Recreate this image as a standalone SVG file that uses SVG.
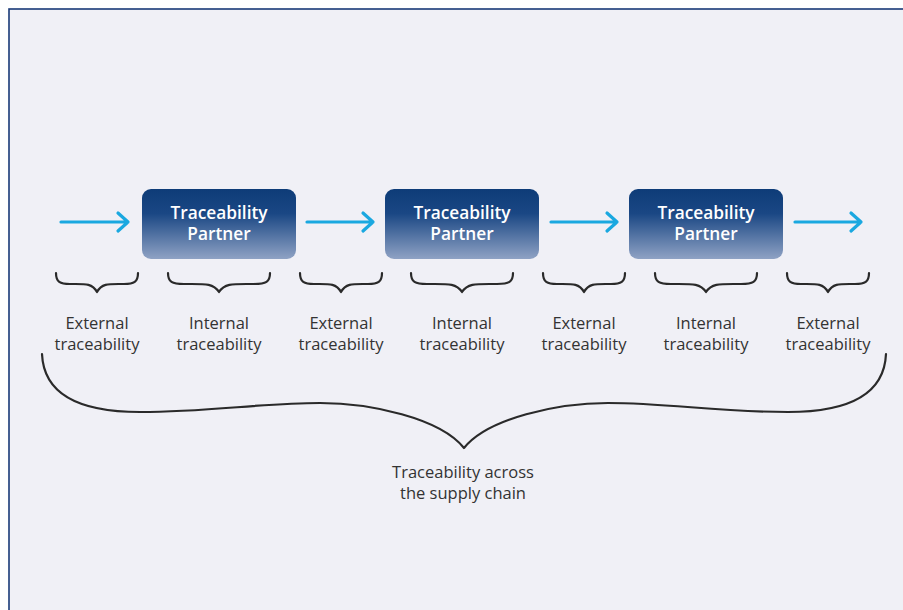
<svg xmlns="http://www.w3.org/2000/svg" width="903" height="610" viewBox="0 0 903 610">
<defs>
<linearGradient id="boxg" x1="0" y1="0" x2="0" y2="1">
<stop offset="0" stop-color="#0e3c78"/>
<stop offset="0.35" stop-color="#1a4784"/>
<stop offset="1" stop-color="#8fa2c4"/>
</linearGradient>
<style>
.box{fill:url(#boxg);}
.bt{font-family:"Open Sans","Liberation Sans",sans-serif;font-weight:600;font-size:17.3px;fill:#ffffff;text-anchor:middle;}
.lbl{font-family:"Open Sans","Liberation Sans",sans-serif;font-size:16.5px;fill:#333333;text-anchor:middle;}
.arr{fill:none;stroke:#1aa8e0;stroke-width:3.2;stroke-linecap:round;stroke-linejoin:round;}
.brace{fill:none;stroke:#2a2a2a;stroke-width:2.2;stroke-linecap:round;stroke-linejoin:round;}
</style>
</defs>
<rect x="0" y="0" width="903" height="610" fill="#ffffff"/>
<rect x="9" y="9" width="910" height="620" fill="#f0f0f6" stroke="#1a3a78" stroke-width="1.6"/>

<g id="connectors">
<path class="arr" d="M61,222 H128 M118,213 L128,222 L118,231"/>
<path class="arr" d="M307,222 H373 M363,213 L373,222 L363,231"/>
<path class="arr" d="M551,222 H617 M607,213 L617,222 L607,231"/>
<path class="arr" d="M795,222 H861 M851,213 L861,222 L851,231"/>
</g>

<g id="partner1">
<rect class="box" x="142" y="189" width="154" height="70" rx="9"/>
<text class="bt" x="219" y="219">Traceability</text>
<text class="bt" x="219" y="240">Partner</text>
</g>
<g id="partner2">
<rect class="box" x="385" y="189" width="154" height="70" rx="9"/>
<text class="bt" x="462" y="219">Traceability</text>
<text class="bt" x="462" y="240">Partner</text>
</g>
<g id="partner3">
<rect class="box" x="629" y="189" width="154" height="70" rx="9"/>
<text class="bt" x="706" y="219">Traceability</text>
<text class="bt" x="706" y="240">Partner</text>
</g>

<g id="braces">
<path class="brace" d="M56,273 C56,282 60,284 70,284 C85,284 92,283 97,292 C102,283 109,284 124,284 C134,284 138,282 138,273"/>
<path class="brace" d="M168,273 C168,282 172,284 184,284 C205,284 213,283 219,292 C225,283 233,284 254,284 C266,284 270,282 270,273"/>
<path class="brace" d="M300,273 C300,282 304,284 314,284 C329,284 336,283 341,292 C346,283 353,284 368,284 C378,284 382,282 382,273"/>
<path class="brace" d="M411,273 C411,282 415,284 427,284 C448,284 456,283 462,292 C468,283 476,284 497,284 C509,284 513,282 513,273"/>
<path class="brace" d="M543,273 C543,282 547,284 557,284 C572,284 579,283 584,292 C589,283 596,284 611,284 C621,284 625,282 625,273"/>
<path class="brace" d="M655,273 C655,282 659,284 671,284 C692,284 700,283 706,292 C712,283 720,284 741,284 C753,284 757,282 757,273"/>
<path class="brace" d="M787,273 C787,282 791,284 801,284 C816,284 823,283 828,292 C833,283 840,284 855,284 C865,284 869,282 869,273"/>
<path class="brace" d="M42,354 C44,400 90,412 140,412 C210,412 260,403 320,403 C370,403 440,418 464,448 C488,418 558,403 608,403 C668,403 718,412 788,412 C838,412 884,400 886,354"/>
</g>

<g id="labels">
<text class="lbl" x="97" y="329">External</text>
<text class="lbl" x="97" y="350">traceability</text>
<text class="lbl" x="219" y="329">Internal</text>
<text class="lbl" x="219" y="350">traceability</text>
<text class="lbl" x="341" y="329">External</text>
<text class="lbl" x="341" y="350">traceability</text>
<text class="lbl" x="462" y="329">Internal</text>
<text class="lbl" x="462" y="350">traceability</text>
<text class="lbl" x="584" y="329">External</text>
<text class="lbl" x="584" y="350">traceability</text>
<text class="lbl" x="706" y="329">Internal</text>
<text class="lbl" x="706" y="350">traceability</text>
<text class="lbl" x="828" y="329">External</text>
<text class="lbl" x="828" y="350">traceability</text>
<text class="lbl" x="463" y="478">Traceability across</text>
<text class="lbl" x="463" y="499">the supply chain</text>
</g>
</svg>
